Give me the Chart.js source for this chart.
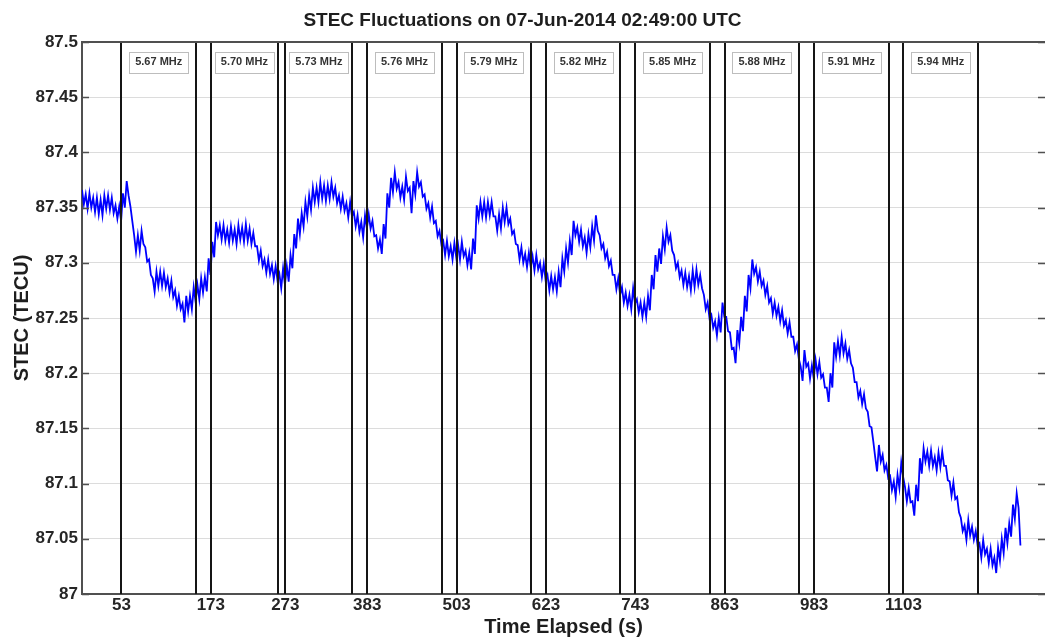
<!DOCTYPE html>
<html>
<head>
<meta charset="utf-8">
<script src="https://cdn.jsdelivr.net/npm/chart.js@4"></script>
<style>
  html, body { margin: 0; padding: 0; background: #fff; }
</style>
</head>
<body>
<canvas id="stecChart" width="1045" height="639"></canvas>
<script>
// STEC samples, one every dt seconds starting at t = 0
const dt = 2.5;
const stec = [
  87.366, 87.353, 87.362, 87.349, 87.363, 87.350, 87.359, 87.346, 87.359, 87.344,
  87.357, 87.343, 87.361, 87.349, 87.361, 87.348, 87.359, 87.345, 87.352, 87.340,
  87.351, 87.338, 87.363, 87.350, 87.374, 87.361, 87.351, 87.338, 87.325, 87.310,
  87.325, 87.311, 87.329, 87.317, 87.314, 87.301, 87.303, 87.289, 87.286, 87.274,
  87.292, 87.279, 87.292, 87.279, 87.291, 87.278, 87.286, 87.273, 87.284, 87.269,
  87.275, 87.261, 87.270, 87.258, 87.263, 87.246, 87.270, 87.256, 87.270, 87.258,
  87.278, 87.265, 87.280, 87.267, 87.286, 87.273, 87.287, 87.274, 87.304, 87.289,
  87.319, 87.305, 87.337, 87.325, 87.334, 87.321, 87.334, 87.320, 87.330, 87.318,
  87.333, 87.320, 87.330, 87.317, 87.334, 87.321, 87.332, 87.319, 87.335, 87.320,
  87.331, 87.317, 87.327, 87.315, 87.315, 87.302, 87.311, 87.297, 87.303, 87.291,
  87.303, 87.290, 87.298, 87.285, 87.297, 87.284, 87.290, 87.277, 87.295, 87.280,
  87.297, 87.283, 87.307, 87.295, 87.326, 87.313, 87.340, 87.326, 87.345, 87.333,
  87.355, 87.342, 87.361, 87.348, 87.368, 87.355, 87.368, 87.355, 87.373, 87.358,
  87.370, 87.356, 87.370, 87.358, 87.373, 87.360, 87.368, 87.354, 87.361, 87.349,
  87.360, 87.347, 87.354, 87.341, 87.355, 87.342, 87.346, 87.333, 87.343, 87.328,
  87.337, 87.323, 87.343, 87.331, 87.344, 87.331, 87.338, 87.324, 87.325, 87.313,
  87.321, 87.308, 87.335, 87.322, 87.363, 87.350, 87.377, 87.364, 87.382, 87.367,
  87.373, 87.359, 87.369, 87.357, 87.378, 87.365, 87.368, 87.345, 87.374, 87.362,
  87.382, 87.369, 87.373, 87.360, 87.362, 87.349, 87.354, 87.341, 87.351, 87.336,
  87.338, 87.324, 87.329, 87.317, 87.320, 87.307, 87.320, 87.306, 87.315, 87.303,
  87.318, 87.305, 87.316, 87.303, 87.319, 87.306, 87.311, 87.298, 87.309, 87.294,
  87.322, 87.308, 87.352, 87.340, 87.355, 87.342, 87.355, 87.341, 87.355, 87.343,
  87.355, 87.342, 87.342, 87.329, 87.344, 87.331, 87.350, 87.337, 87.350, 87.335,
  87.340, 87.326, 87.329, 87.317, 87.316, 87.303, 87.314, 87.300, 87.308, 87.296,
  87.309, 87.296, 87.306, 87.293, 87.307, 87.294, 87.300, 87.287, 87.299, 87.284,
  87.289, 87.275, 87.288, 87.276, 87.287, 87.274, 87.292, 87.278, 87.304, 87.292,
  87.313, 87.300, 87.320, 87.307, 87.338, 87.325, 87.332, 87.319, 87.330, 87.315,
  87.323, 87.309, 87.326, 87.314, 87.333, 87.320, 87.343, 87.329, 87.325, 87.313,
  87.317, 87.304, 87.310, 87.297, 87.302, 87.289, 87.289, 87.276, 87.286, 87.271,
  87.278, 87.264, 87.273, 87.261, 87.271, 87.258, 87.277, 87.263, 87.267, 87.255,
  87.264, 87.251, 87.264, 87.251, 87.270, 87.257, 87.289, 87.276, 87.307, 87.292,
  87.313, 87.299, 87.324, 87.312, 87.332, 87.319, 87.325, 87.311, 87.307, 87.295,
  87.300, 87.287, 87.293, 87.280, 87.291, 87.278, 87.288, 87.275, 87.293, 87.278,
  87.294, 87.280, 87.289, 87.277, 87.271, 87.258, 87.264, 87.250, 87.253, 87.241,
  87.247, 87.234, 87.250, 87.237, 87.264, 87.251, 87.251, 87.238, 87.237, 87.222,
  87.223, 87.209, 87.239, 87.227, 87.251, 87.238, 87.270, 87.256, 87.289, 87.277,
  87.303, 87.290, 87.296, 87.283, 87.292, 87.279, 87.284, 87.271, 87.279, 87.264,
  87.268, 87.254, 87.264, 87.252, 87.260, 87.247, 87.257, 87.243, 87.248, 87.236,
  87.246, 87.233, 87.233, 87.220, 87.226, 87.213, 87.206, 87.193, 87.221, 87.206,
  87.209, 87.195, 87.207, 87.195, 87.212, 87.199, 87.210, 87.196, 87.199, 87.187,
  87.187, 87.174, 87.200, 87.187, 87.228, 87.215, 87.229, 87.216, 87.233, 87.218,
  87.227, 87.213, 87.221, 87.209, 87.205, 87.192, 87.192, 87.178, 87.184, 87.172,
  87.181, 87.168, 87.165, 87.152, 87.151, 87.138, 87.124, 87.111, 87.135, 87.120,
  87.126, 87.112, 87.117, 87.105, 87.107, 87.094, 87.102, 87.088, 87.108, 87.096,
  87.119, 87.106, 87.097, 87.084, 87.096, 87.083, 87.084, 87.071, 87.099, 87.084,
  87.123, 87.109, 87.132, 87.120, 87.129, 87.116, 87.130, 87.116, 87.124, 87.112,
  87.128, 87.115, 87.129, 87.116, 87.116, 87.103, 87.102, 87.089, 87.101, 87.086,
  87.088, 87.074, 87.069, 87.057, 87.062, 87.049, 87.067, 87.053, 87.061, 87.049,
  87.057, 87.044, 87.046, 87.033, 87.049, 87.036, 87.041, 87.028, 87.041, 87.026,
  87.033, 87.019, 87.042, 87.030, 87.050, 87.037, 87.060, 87.046, 87.064, 87.052,
  87.081, 87.068, 87.091, 87.078, 87.044
];

const xTicks = [53, 173, 273, 383, 503, 623, 743, 863, 983, 1103];
const yTicks = [87, 87.05, 87.1, 87.15, 87.2, 87.25, 87.3, 87.35, 87.4, 87.45, 87.5];

// frequency windows (seconds)
const bandStart = [53, 173, 273, 383, 503, 623, 743, 863, 983, 1103];
const bandEnd = [153, 263, 363, 483, 603, 723, 843, 963, 1083, 1203];
const bandLabels = ['5.67 MHz', '5.70 MHz', '5.73 MHz', '5.76 MHz', '5.79 MHz',
                    '5.82 MHz', '5.85 MHz', '5.88 MHz', '5.91 MHz', '5.94 MHz'];

const FONT = "'Liberation Sans', Arial, Helvetica, sans-serif";

const bandsPlugin = {
  id: 'bands',
  afterDatasetsDraw(chart) {
    const { ctx, chartArea: a, scales: { x, y } } = chart;
    ctx.save();

    // window boundary lines
    ctx.strokeStyle = '#151515';
    ctx.lineWidth = 2;
    bandStart.concat(bandEnd).forEach(t => {
      const px = Math.round(x.getPixelForValue(t));
      ctx.beginPath();
      ctx.moveTo(px, a.top);
      ctx.lineTo(px, a.bottom);
      ctx.stroke();
    });

    // frequency labels in boxes
    ctx.font = 'bold 11px ' + FONT;
    ctx.textAlign = 'center';
    ctx.textBaseline = 'middle';
    const ly = y.getPixelForValue(87.482);
    bandLabels.forEach((txt, i) => {
      const cx = x.getPixelForValue((bandStart[i] + bandEnd[i]) / 2);
      const w = ctx.measureText(txt).width + 12;
      ctx.fillStyle = '#fff';
      ctx.fillRect(Math.round(cx - w / 2) + 0.5, Math.round(ly - 10) + 0.5, Math.round(w), 21);
      ctx.strokeStyle = '#bdbdbd';
      ctx.lineWidth = 1;
      ctx.strokeRect(Math.round(cx - w / 2) + 0.5, Math.round(ly - 10) + 0.5, Math.round(w), 21);
      ctx.fillStyle = '#333';
      ctx.fillText(txt, cx, ly + 0.5);
    });

    // top frame and inward y tick marks
    ctx.strokeStyle = '#505050';
    ctx.lineWidth = 2;
    ctx.beginPath();
    ctx.moveTo(a.left, a.top);
    ctx.lineTo(a.right, a.top);
    ctx.stroke();
    ctx.lineWidth = 1.5;
    yTicks.forEach(v => {
      const py = Math.round(y.getPixelForValue(v)) + 0.5;
      ctx.beginPath();
      ctx.moveTo(a.left, py);
      ctx.lineTo(a.left + 7, py);
      ctx.moveTo(a.right - 7, py);
      ctx.lineTo(a.right, py);
      ctx.stroke();
    });
    ctx.restore();
  }
};

new Chart(document.getElementById('stecChart'), {
  type: 'line',
  data: {
    datasets: [{
      data: stec.map((v, i) => ({ x: i * dt, y: v })),
      borderColor: '#0000ff',
      borderWidth: 1.8,
      pointRadius: 0,
      tension: 0,
      fill: false
    }]
  },
  options: {
    responsive: false,
    animation: false,
    devicePixelRatio: 1,
    layout: { padding: 0 },
    plugins: {
      legend: { display: false },
      tooltip: { enabled: false },
      title: {
        display: true,
        text: 'STEC Fluctuations on 07-Jun-2014 02:49:00 UTC',
        color: '#1e1e1e',
        font: { family: FONT, size: 19, weight: 'bold', lineHeight: 1.2 },
        padding: { top: 9, bottom: 10.2 }
      }
    },
    scales: {
      x: {
        type: 'linear',
        min: 0,
        max: 1293,
        afterBuildTicks: s => { s.ticks = xTicks.map(v => ({ value: v })); },
        afterFit: s => { s.height = 45; },
        grid: { display: false, drawTicks: false },
        border: { color: '#505050', width: 2 },
        ticks: {
          color: '#262626',
          padding: 1,
          maxRotation: 0,
          autoSkip: false,
          font: { family: FONT, size: 17, weight: 'bold' },
          callback: v => String(v)
        },
        title: {
          display: true,
          text: 'Time Elapsed (s)',
          color: '#1e1e1e',
          font: { family: FONT, size: 20, weight: 'bold', lineHeight: 1.2 },
          padding: { top: 0, bottom: 0 }
        }
      },
      y: {
        min: 87,
        max: 87.5,
        afterBuildTicks: s => { s.ticks = yTicks.map(v => ({ value: v })); },
        afterFit: s => { s.width = 82; },
        grid: { color: '#dcdcdc', lineWidth: 1, drawTicks: false },
        border: { color: '#505050', width: 2 },
        ticks: {
          color: '#262626',
          padding: 4,
          autoSkip: false,
          font: { family: FONT, size: 17, weight: 'bold' },
          callback: v => String(parseFloat(v.toFixed(2)))
        },
        title: {
          display: true,
          text: 'STEC (TECU)',
          color: '#1e1e1e',
          font: { family: FONT, size: 20, weight: 'bold', lineHeight: 1.2 },
          padding: { top: 10, bottom: 0 }
        }
      }
    }
  },
  plugins: [bandsPlugin]
});
</script>
</body>
</html>
